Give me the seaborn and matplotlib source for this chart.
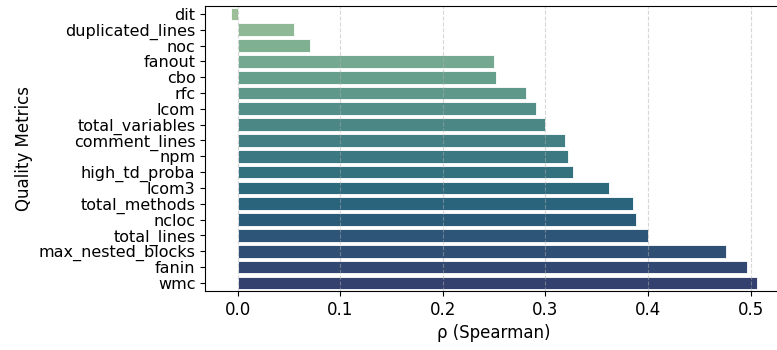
import pandas as pd
import numpy as np
import matplotlib.pyplot as plt
import seaborn as sns

# ================= DATA =================
metrics = [
    "dit", "duplicated_lines", "noc", "fanout", "cbo", "rfc", "lcom",
    "total_variables", "comment_lines", "npm", "high_td_proba", "lcom3",
    "total_methods", "ncloc", "total_lines", "max_nested_blocks", "fanin", "wmc"
]
rho = [
    -0.006, 0.055, 0.071, 0.250, 0.252, 0.281, 0.291,
    0.300, 0.319, 0.322, 0.327, 0.362,
    0.385, 0.388, 0.400, 0.476, 0.497, 0.506
]

df = pd.DataFrame({"Metric": metrics, "rho": rho})

plt.rcParams["font.size"] = 12

# ================= PLOT =================
fig, ax = plt.subplots(figsize=(7.77, 3.5), dpi=100)

sns.barplot(
    data=df,
    x="rho",
    y="Metric",
    hue="Metric",
    palette="crest",
    legend=False,
    edgecolor="white",
    linewidth=0.6,
    ax=ax
)

ax.grid(axis="x", linestyle="--", alpha=0.5)
ax.set_xlabel("ρ (Spearman)", fontsize=12)
ax.set_ylabel("Quality Metrics", fontsize=12)
ax.tick_params(axis="both", labelsize=12)
ax.tick_params(axis="y", labelsize=11.5)

# original figure is cropped on the right, so the axes run past the edge
fig.subplots_adjust(left=0.264, right=1.0077, top=0.983, bottom=0.169)
plt.savefig("out.png")
